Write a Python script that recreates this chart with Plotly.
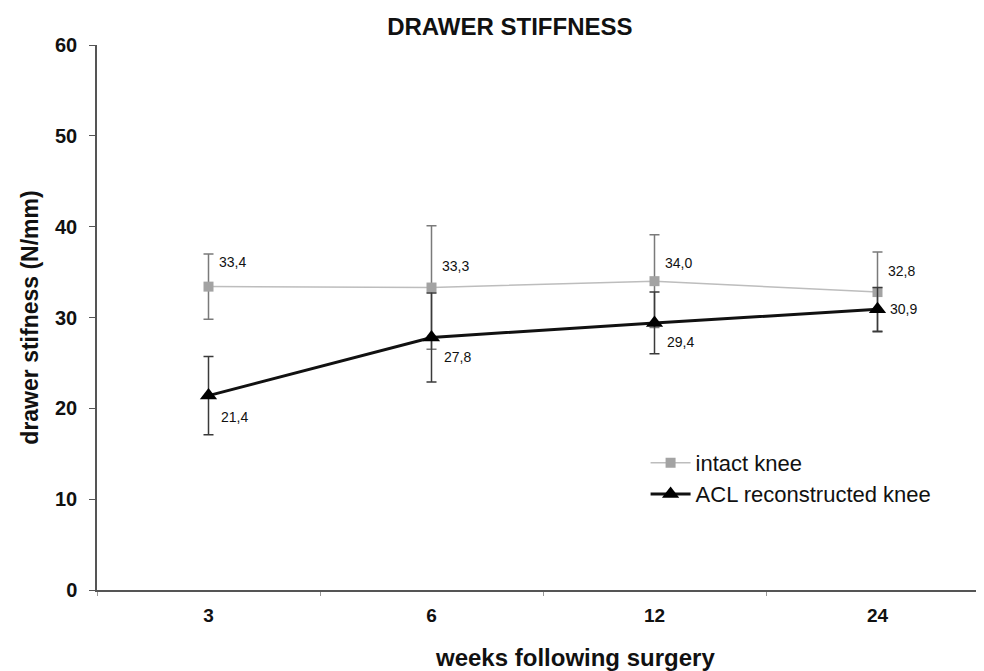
import plotly.graph_objects as go

weeks = ["3", "6", "12", "24"]
intact = [33.4, 33.3, 34.0, 32.8]
intact_err = [3.6, 6.8, 5.1, 4.4]
acl = [21.4, 27.8, 29.4, 30.9]
acl_err = [4.3, 4.9, 3.4, 2.4]
intact_labels = ["33,4", "33,3", "34,0", "32,8"]
acl_labels = ["21,4", "27,8", "29,4", "30,9"]

FONT = "Liberation Sans, Arial, sans-serif"

fig = go.Figure()
fig.add_trace(go.Scatter(
    x=weeks, y=intact, name="intact knee", mode="lines+markers",
    line=dict(color="#bdbdbd", width=1.5),
    marker=dict(symbol="square", size=10, color="#a3a3a3"),
    error_y=dict(type="data", array=intact_err, visible=True,
                 color="#7a7a7a", thickness=1.5, width=5),
    legend="legend",
))
fig.add_trace(go.Scatter(
    x=weeks, y=acl, name="ACL reconstructed knee", mode="lines+markers",
    line=dict(color="#111111", width=3),
    marker=dict(symbol="triangle-up", size=15, color="#000000"),
    error_y=dict(type="data", array=acl_err, visible=True,
                 color="#3a3a3a", thickness=1.5, width=5),
    legend="legend2",
))

i_shift = [25, 22, 18, 21]
a_shift = [-21, -20, -19, 0]
for i, (v, t, s) in enumerate(zip(intact, intact_labels, i_shift)):
    fig.add_annotation(x=i, y=v, text=t, showarrow=False, xanchor="left",
                       xshift=8, yshift=s, font=dict(family=FONT, size=14, color="#111"))
for i, (v, t, s) in enumerate(zip(acl, acl_labels, a_shift)):
    fig.add_annotation(x=i, y=v, text=t, showarrow=False, xanchor="left",
                       xshift=10, yshift=s, font=dict(family=FONT, size=14, color="#111"))

# x-axis title (offset to the right of the plot centre, as in the original)
fig.add_annotation(xref="paper", yref="paper", x=0.536, y=-0.123,
                   xanchor="center", yanchor="middle", showarrow=False,
                   text="<b>weeks following surgery</b>",
                   font=dict(size=24, family=FONT, color="#111"))

leg_common = dict(xanchor="left", yanchor="middle", font=dict(size=22, family=FONT),
                  bgcolor="rgba(0,0,0,0)", itemwidth=40)
fig.update_layout(
    width=984, height=671,
    margin=dict(l=89, r=3, t=37, b=89, autoexpand=False),
    paper_bgcolor="white", plot_bgcolor="white",
    font=dict(family=FONT, color="#111"),
    title=dict(text="<b>DRAWER STIFFNESS</b>", x=0.51, xanchor="center",
               y=0.972, yanchor="middle", font=dict(size=24, family=FONT)),
    legend=dict(x=0.615, y=0.233, **leg_common),
    legend2=dict(x=0.615, y=0.176, **leg_common),
    showlegend=True,
)
fig.update_xaxes(
    type="category", range=[-0.5, 3.5], showgrid=False, zeroline=False,
    showline=True, linecolor="#555", linewidth=1.5,
    ticks="outside", tickson="boundaries", ticklen=4, tickcolor="#999",
    tickfont=dict(size=19, family=FONT), ticklabelstandoff=7,
    tickvals=weeks, ticktext=["<b>%s</b>" % w for w in weeks],
)
fig.update_yaxes(
    range=[0, 60], showgrid=False, zeroline=False,
    showline=True, linecolor="#555", linewidth=1.5,
    ticks="outside", ticklen=6, tickcolor="#555",
    tickfont=dict(size=20, family=FONT), ticklabelstandoff=8,
    tickvals=[0, 10, 20, 30, 40, 50, 60],
    ticktext=["<b>%d</b>" % v for v in [0, 10, 20, 30, 40, 50, 60]],
    title=dict(text="<b>drawer stifness (N/mm)</b>", font=dict(size=23, family=FONT), standoff=10),
)

fig.write_html("out.html")
